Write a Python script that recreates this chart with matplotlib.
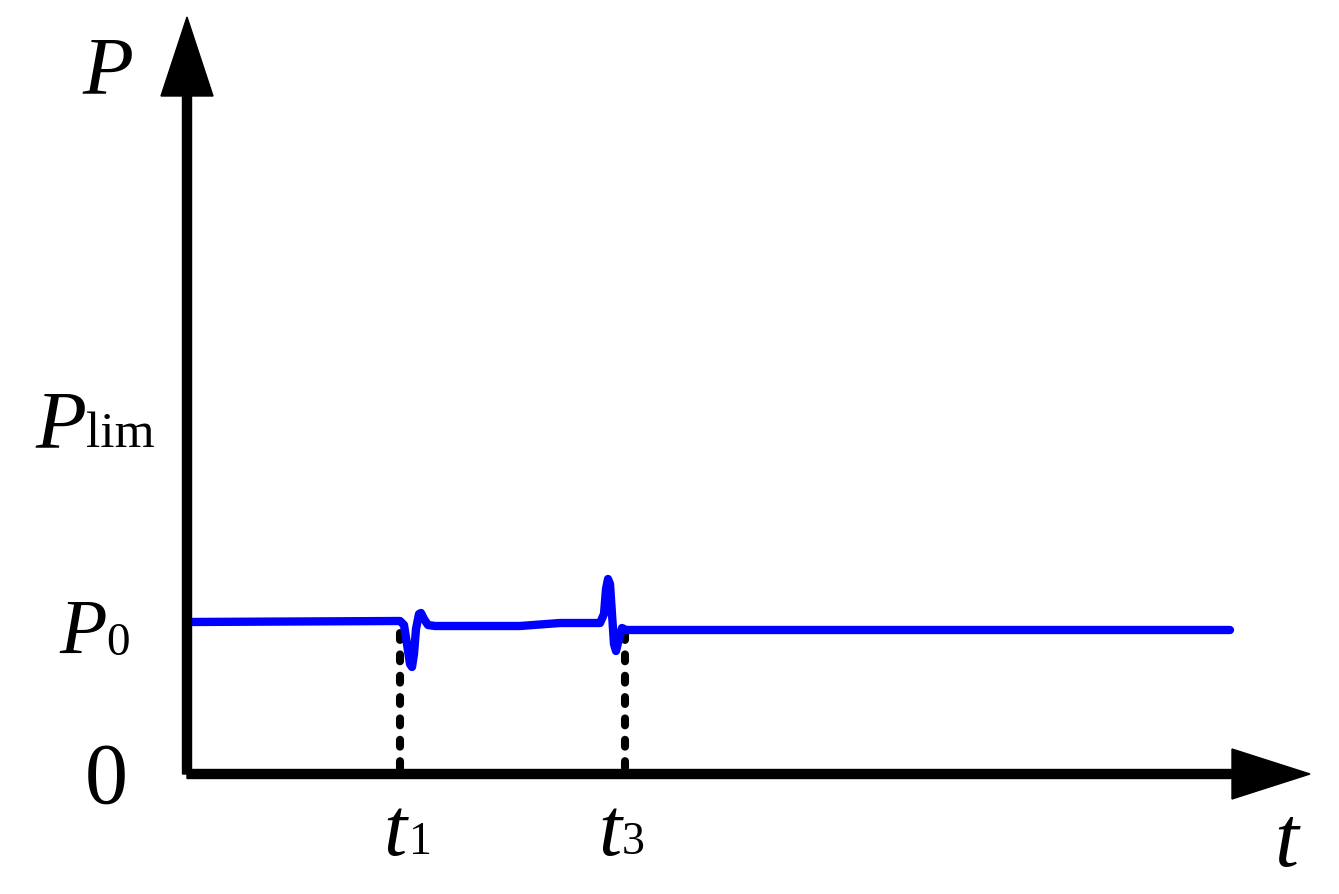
import matplotlib
matplotlib.use("Agg")
import matplotlib.pyplot as plt

plt.rcParams['font.family'] = ['Liberation Serif', 'DejaVu Serif']

# power curve (t and P in arbitrary units)
t_vals = [0.00, 2.13, 2.17, 2.20, 2.23, 2.25, 2.27, 2.29, 2.32, 2.34, 2.37,
          2.41, 2.48, 3.33, 3.73, 4.13, 4.17, 4.19, 4.21, 4.23, 4.25, 4.27,
          4.29, 4.32, 4.35, 4.39, 10.43]
p_vals = [1.52, 1.53, 1.49, 1.30, 1.10, 1.07, 1.20, 1.45, 1.60, 1.61, 1.55,
          1.49, 1.48, 1.48, 1.51, 1.51, 1.60, 1.85, 1.95, 1.90, 1.60, 1.30,
          1.23, 1.35, 1.46, 1.44, 1.44]

t1 = 2.13
t3 = 4.38
p_t1 = 1.54
p_t3 = 1.44
t_axis_len = 11.23
p_axis_len = 7.57

# (main text, sub text, main size, sub size, main pos, sub pos) in pixels
labels = [
    ('P', '', 60, 0, (82, 93), None),
    ('P', 'lim', 60, 37, (35, 447), (86, 447)),
    ('P', '0', 56, 34, (59, 653), (106, 655)),
    ('0', '', 62, 0, (85, 803), None),
    ('t', '1', 60, 33, (383, 855), (409, 854)),
    ('t', '3', 60, 33, (598, 855), (622, 854)),
    ('t', '', 62, 0, (1274, 866), None),
]


def px(x, y):
    "pixel position in the picture -> data coordinates"
    return (x - 187) / 100.0, (775 - y) / 100.0


def main():
    fig = plt.figure(figsize=(13.39, 8.95), dpi=100)
    ax = fig.add_axes([0, 0, 1, 1])
    ax.set_xlim(-1.87, 11.52)
    ax.set_ylim(-1.20, 7.75)
    ax.axis('off')

    # axes with arrow heads
    ax.arrow(0, 0, 0, p_axis_len, width=0.09, head_width=0.52, head_length=0.79,
             length_includes_head=True, color='black', zorder=3)
    ax.arrow(0, 0, t_axis_len, 0, width=0.09, head_width=0.50, head_length=0.78,
             length_includes_head=True, color='black', zorder=3)

    # dotted markers
    for tt, pp in [(t1, p_t1), (t3, p_t3)]:
        ax.plot([tt, tt], [0.06, pp], color='black', lw=5.8, ls=(0, (0.85, 1.8)),
                dash_capstyle='round', zorder=1)

    ax.plot(t_vals, p_vals, color='#0000ff', lw=6, solid_joinstyle='round',
            solid_capstyle='round', zorder=2)

    for main_txt, sub_txt, fs, sfs, pos, spos in labels:
        style = 'normal' if main_txt.isdigit() else 'italic'
        x, y = px(*pos)
        ax.text(x, y, main_txt, fontsize=fs, fontstyle=style,
                ha='left', va='baseline')
        if sub_txt:
            sx, sy = px(*spos)
            ax.text(sx, sy, sub_txt, fontsize=sfs, ha='left', va='baseline')

    fig.savefig('out.png', dpi=100)


if __name__ == "__main__":
    main()
